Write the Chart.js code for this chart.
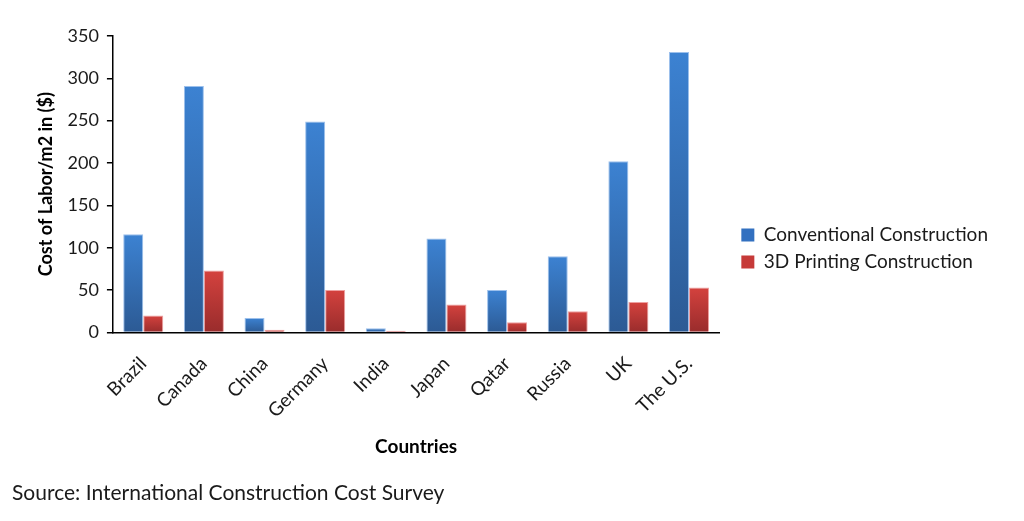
<!DOCTYPE html>
<html>
<head>
<meta charset="utf-8">
<script src="https://cdn.jsdelivr.net/npm/chart.js@4"></script>
<style>
  html, body { margin: 0; padding: 0; background: #fff; }
  #wrap { position: relative; width: 1024px; height: 521px; }
  #source { position: absolute; left: 12px; top: 481px; font-family: Lato, sans-serif; font-size: 21px; line-height: 22px; color: #1a1a1a; white-space: nowrap; }
</style>
</head>
<body>
<div id="wrap">
  <canvas id="c"></canvas>
  <div id="source">Source: International Construction Cost Survey</div>
</div>
<script>
const categories = ["Brazil", "Canada", "China", "Germany", "India", "Japan", "Qatar", "Russia", "UK", "The U.S."];
const conventional = [116, 291, 17, 249, 5, 111, 50, 90, 202, 331];
const printing3d = [20, 73, 3, 50, 2, 33, 12, 25, 36, 53];
const seriesNames = ["Conventional Construction", "3D Printing Construction"];
const yTicks = [0, 50, 100, 150, 200, 250, 300, 350];

function barGradient(top, bottom) {
  return (context) => {
    const chart = context.chart;
    const y = chart.scales.y;
    if (!y || context.type !== 'data') return bottom;
    const v = context.raw;
    const yTop = y.getPixelForValue(v);
    const yBot = y.getPixelForValue(0);
    if (!isFinite(yTop) || !isFinite(yBot) || yTop === yBot) return bottom;
    const g = chart.ctx.createLinearGradient(0, yTop, 0, yBot);
    g.addColorStop(0, top);
    g.addColorStop(1, bottom);
    return g;
  };
}

const legendColors = ["#3270c0", "#c63a38"];
const LEGEND_GAP = 14;

const legendGap = {
  id: 'legendGap',
  beforeLayout(chart) {
    const lg = chart.legend;
    if (lg && !lg._gapPatched) {
      const origFit = lg.fit;
      lg.fit = function () { origFit.call(this); this.width += LEGEND_GAP; };
      lg._gapPatched = true;
    }
  },
  afterLayout(chart) {
    const lg = chart.legend;
    if (lg) { lg.left += LEGEND_GAP; lg.right += LEGEND_GAP; }
  }
};

new Chart(document.getElementById('c'), {
  type: 'bar',
  data: {
    labels: categories,
    datasets: [
      {
        label: seriesNames[0],
        data: conventional,
        backgroundColor: barGradient('#3c82d2', '#2c5a94'),
        borderColor: '#9cc0ec',
        borderWidth: 1,
        barPercentage: 1.0,
        categoryPercentage: 0.66
      },
      {
        label: seriesNames[1],
        data: printing3d,
        backgroundColor: barGradient('#d4423e', '#992c2c'),
        borderColor: '#eea0a0',
        borderWidth: 1,
        barPercentage: 1.0,
        categoryPercentage: 0.66
      }
    ]
  },
  plugins: [legendGap],
  options: {
    responsive: true,
    maintainAspectRatio: false,
    animation: false,
    layout: { padding: { top: 36, bottom: 60, left: 35, right: 26 } },
    plugins: {
      tooltip: { enabled: false },
      legend: {
        position: 'right',
        maxWidth: 400,
        labels: {
          font: { family: 'Lato', size: 19 },
          color: '#1a1a1a',
          boxWidth: 13,
          boxHeight: 13,
          padding: 8,
          generateLabels: (chart) => chart.data.datasets.map((ds, i) => ({
            text: ds.label,
            fillStyle: legendColors[i],
            strokeStyle: legendColors[i],
            lineWidth: 0,
            hidden: false,
            datasetIndex: i,
            fontColor: '#1a1a1a'
          }))
        }
      }
    },
    scales: {
      x: {
        grid: { display: false },
        border: { display: true, color: '#000', width: 1.5 },
        ticks: {
          color: '#1a1a1a',
          font: { family: 'Lato', size: 19 },
          minRotation: 45,
          maxRotation: 45,
          padding: 12
        },
        title: {
          display: true,
          text: 'Countries',
          color: '#000',
          font: { family: 'Lato', size: 19, weight: 'bold' },
          padding: { top: 1, bottom: 3 }
        }
      },
      y: {
        min: 0,
        max: 350,
        afterBuildTicks: (scale) => { scale.ticks = yTicks.map(v => ({ value: v })); },
        grid: { drawOnChartArea: false, drawTicks: true, tickLength: 6, color: '#000', lineWidth: 1.5 },
        border: { display: true, color: '#000', width: 1.5 },
        ticks: {
          color: '#1a1a1a',
          font: { family: 'Lato', size: 18 },
          padding: 8
        },
        title: {
          display: true,
          text: 'Cost of Labor/m2 in ($)',
          color: '#000',
          font: { family: 'Lato', size: 18, weight: 'bold' },
          padding: { top: 0, bottom: 3 }
        }
      }
    }
  }
});
</script>
</body>
</html>
